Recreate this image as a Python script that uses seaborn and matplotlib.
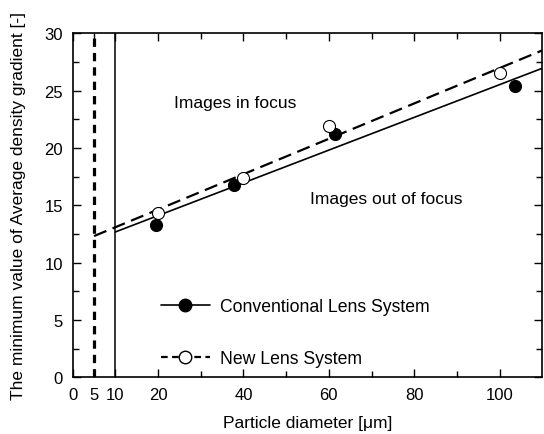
import numpy as np
import pandas as pd
import seaborn as sns
import matplotlib
matplotlib.use("Agg")
import matplotlib.pyplot as plt
from matplotlib.lines import Line2D
from matplotlib.ticker import FixedLocator, MultipleLocator

# Measured minimum average density gradient vs. particle diameter
conv_diameter = [19.4, 37.7, 61.5, 103.5]
conv_gradient = [13.3, 16.8, 21.2, 25.4]
new_diameter = [19.9, 39.9, 60.1, 100.0]
new_gradient = [14.3, 17.4, 21.9, 26.5]

# Resolution limits of each lens system (vertical lines) and fit ranges
conv_limit = 10
new_limit = 5
fit_end = 110

x_ticks = [0, 5, 10, 20, 40, 60, 80, 100]
x_minor = [30, 50, 70, 90]

sns.set_theme(style="ticks")
plt.rcParams["font.family"] = ["Liberation Sans", "DejaVu Sans"]
plt.rcParams.update({"text.color": "black", "axes.labelcolor": "black",
                     "xtick.color": "black", "ytick.color": "black"})

fig = plt.figure(figsize=(5.44, 4.35), dpi=100)
ax = fig.add_axes([0.1336, 0.1303, 0.8634, 0.7909])

conv = pd.DataFrame({"d": conv_diameter, "g": conv_gradient})
new = pd.DataFrame({"d": new_diameter, "g": new_gradient})

# Linear fits through each data set
cb = np.polyfit(conv["d"], conv["g"], 1)
nb = np.polyfit(new["d"], new["g"], 1)
conv_fit = pd.DataFrame({"d": [conv_limit, fit_end]})
conv_fit["g"] = np.polyval(cb, conv_fit["d"])
new_fit = pd.DataFrame({"d": [new_limit, fit_end]})
new_fit["g"] = np.polyval(nb, new_fit["d"])

ax.axvline(new_limit, color="black", lw=2.3, ls=(0, (2.6, 1.9)), zorder=2)
ax.axvline(conv_limit, color="black", lw=1.1, zorder=2)

sns.lineplot(data=conv_fit, x="d", y="g", ax=ax, color="black", lw=1.2, zorder=3)
sns.lineplot(data=new_fit, x="d", y="g", ax=ax, color="black", lw=1.6, zorder=3)
ax.lines[-1].set_linestyle((0, (6, 3)))

sns.scatterplot(data=conv, x="d", y="g", ax=ax, color="black", s=75,
                edgecolor="black", linewidth=0.8, zorder=4)
sns.scatterplot(data=new, x="d", y="g", ax=ax, color="white", s=75,
                edgecolor="black", linewidth=0.8, zorder=5)

ax.set_xlim(0, 110)
ax.set_ylim(0, 30)
ax.xaxis.set_major_locator(FixedLocator(x_ticks))
ax.xaxis.set_minor_locator(FixedLocator(x_minor))
ax.yaxis.set_major_locator(MultipleLocator(5))
ax.yaxis.set_minor_locator(MultipleLocator(2.5))
ax.tick_params(which="both", direction="in", top=True, right=True,
               labelsize=12, color="black", labelcolor="black", width=1.0)
ax.tick_params(axis="y", pad=7)
ax.tick_params(axis="x", pad=7)
ax.tick_params(which="major", length=6)
ax.tick_params(which="minor", length=4)
for s in ax.spines.values():
    s.set_color("black")
    s.set_linewidth(1.2)

ax.set_xlabel("Particle diameter [μm]", fontsize=12.5, labelpad=9, color="black")
ax.set_ylabel("The minimum value of Average density gradient [-]", fontsize=12.5,
              labelpad=13, color="black")

ax.text(23.7, 24.0, "Images in focus", fontsize=12.5, va="center", ha="left", color="black")
ax.text(55.5, 15.6, "Images out of focus", fontsize=12.5, va="center", ha="left", color="black")

handles = [
    Line2D([], [], color="black", lw=1.2, marker="o", markersize=9,
           markerfacecolor="black", markeredgecolor="black"),
    Line2D([], [], color="black", lw=1.6, ls=(0, (3, 2)), marker="o", markersize=9,
           markerfacecolor="white", markeredgecolor="black"),
]
leg = ax.legend(handles, ["Conventional Lens System", "New Lens System"],
                loc="upper left", bbox_to_anchor=(0.172, 0.25), frameon=False,
                fontsize=12.7, handlelength=2.8, handletextpad=0.6,
                labelspacing=1.95, borderaxespad=0)
for t in leg.get_texts():
    t.set_color("black")

fig.savefig("out.png", dpi=100)
